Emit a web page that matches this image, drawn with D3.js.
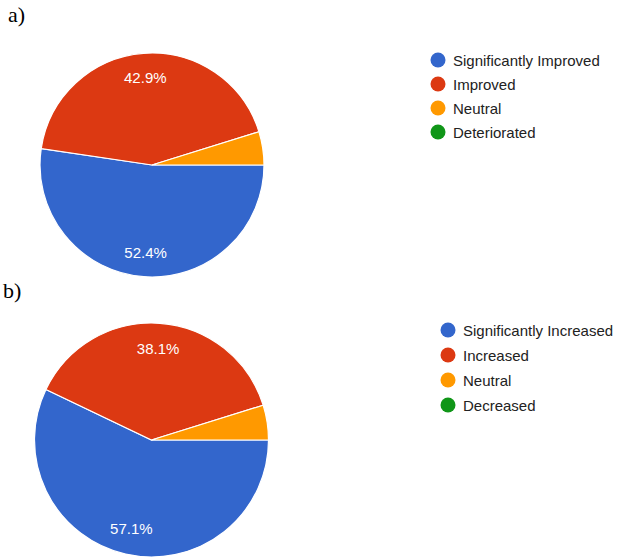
<!DOCTYPE html>
<html>
<head>
<meta charset="utf-8">
<script src="https://cdn.jsdelivr.net/npm/d3@7"></script>
<style>
  html, body { margin: 0; padding: 0; background: #ffffff; }
  svg { display: block; }
</style>
</head>
<body>
<svg id="chart" width="619" height="557"></svg>
<script>
// ---- data ----
const categoriesA = ["Significantly Improved", "Improved", "Neutral", "Deteriorated"];
const valuesA = [52.4, 42.9, 4.8, 0];
const categoriesB = ["Significantly Increased", "Increased", "Neutral", "Decreased"];
const valuesB = [57.1, 38.1, 4.8, 0];
const panelLabels = ["a)", "b)"];
const sliceColors = ["#3366cc", "#dc3912", "#ff9900", "#109618"];

const svg = d3.select("#chart");

function drawPanel(cfg) {
  const data = cfg.categories.map((c, i) => ({ name: c, value: cfg.values[i], idx: i }));
  const color = d3.scaleOrdinal().domain(cfg.categories).range(sliceColors);
  const pie = d3.pie().value(d => d.value).sort(null)
    .startAngle(Math.PI / 2).endAngle(Math.PI / 2 + 2 * Math.PI);
  const arcs = pie(data);
  const arc = d3.arc().innerRadius(0).outerRadius(cfg.r);
  const labelArc = d3.arc().innerRadius(cfg.r * 0.78).outerRadius(cfg.r * 0.78);

  const g = svg.append("g").attr("transform", `translate(${cfg.cx},${cfg.cy})`);
  g.selectAll("path").data(arcs.filter(d => d.data.value > 0)).join("path")
    .attr("d", arc)
    .attr("fill", d => color(d.data.name))
    .attr("stroke", "#ffffff")
    .attr("stroke-width", 1.2);

  g.selectAll("text").data(arcs.filter(d => d.data.value >= 10)).join("text")
    .attr("transform", d => `translate(${labelArc.centroid(d)})`)
    .attr("text-anchor", "middle")
    .attr("dominant-baseline", "central")
    .attr("font-family", "Liberation Sans, Arial, sans-serif")
    .attr("font-size", 15)
    .attr("fill", "#ffffff")
    .text(d => d.data.value.toFixed(1) + "%");

  // legend
  const lg = svg.append("g").attr("transform", `translate(${cfg.lx},${cfg.ly})`);
  const items = lg.selectAll("g").data(data).join("g")
    .attr("transform", (d, i) => `translate(0,${i * cfg.lstep})`);
  items.append("circle").attr("r", 7.5).attr("fill", d => color(d.name));
  items.append("text")
    .attr("x", 15)
    .attr("dominant-baseline", "central")
    .attr("font-family", "Liberation Sans, Arial, sans-serif")
    .attr("font-size", 15)
    .attr("fill", "#222222")
    .text(d => d.name);

  svg.append("text")
    .attr("x", cfg.tx).attr("y", cfg.ty)
    .attr("font-family", "Liberation Serif, Times New Roman, serif")
    .attr("font-size", 22)
    .attr("fill", "#000000")
    .text(cfg.title);
}

drawPanel({ categories: categoriesA, values: valuesA, title: panelLabels[0],
  cx: 152, cy: 165, r: 112, lx: 438, ly: 60, lstep: 24, tx: 8, ty: 22 });
drawPanel({ categories: categoriesB, values: valuesB, title: panelLabels[1],
  cx: 151.5, cy: 440, r: 117, lx: 448, ly: 330, lstep: 25, tx: 3, ty: 298 });
</script>
</body>
</html>
